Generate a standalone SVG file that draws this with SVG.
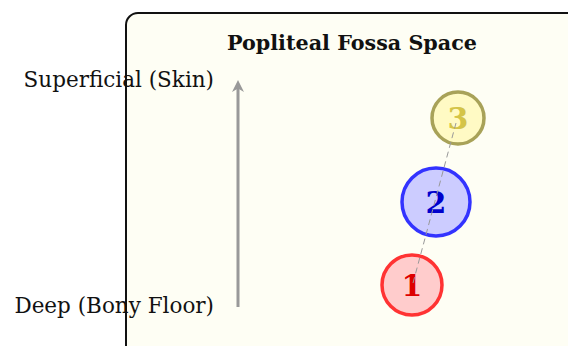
<svg xmlns="http://www.w3.org/2000/svg" width="568" height="346" viewBox="0 0 568 346">
<style>
text{font-family:"DejaVu Serif","Liberation Serif",serif;}
.lbl{font-size:21.5px;fill:#111;text-anchor:end;}
.num{font-size:30px;font-weight:bold;text-anchor:middle;}
</style>
<defs>
<marker id="ah" viewBox="0 0 10 10" refX="5" refY="5" markerWidth="4" markerHeight="4" orient="auto">
<path d="M0,0 L10,5 L0,10 L3,5 Z" fill="#999"/>
</marker>
</defs>
<rect width="568" height="346" fill="#fff"/>
<g id="box">
<rect x="126" y="13" width="460" height="360" rx="12" fill="#fefef4" stroke="#111" stroke-width="2"/>
<text x="352" y="50" font-size="20.7" font-weight="bold" text-anchor="middle" fill="#111">Popliteal Fossa Space</text>
</g>
<g id="axis">
<line x1="238" y1="307" x2="238" y2="86" stroke="#999" stroke-width="3" marker-end="url(#ah)"/>
<text class="lbl" x="214" y="87">Superficial (Skin)</text>
<text class="lbl" x="214" y="313">Deep (Bony Floor)</text>
</g>
<g id="node3">
<circle cx="458" cy="118" r="26" fill="#fffac4" stroke="#a8a258" stroke-width="3.5"/>
<text class="num" x="458" y="129" fill="#d4c448">3</text>
</g>
<g id="node2">
<circle cx="436" cy="202" r="34" fill="#ccccff" stroke="#3333ff" stroke-width="3.5"/>
<text class="num" x="436" y="213" fill="#0000cc">2</text>
</g>
<g id="node1">
<circle cx="412" cy="285" r="30" fill="#ffcccc" stroke="#ff3333" stroke-width="3.5"/>
<text class="num" x="412" y="296" fill="#dd0000">1</text>
</g>
<g id="connectors">
<line x1="413" y1="283" x2="456" y2="123" stroke="#999" stroke-width="1" stroke-dasharray="6,4"/>
</g>
</svg>
